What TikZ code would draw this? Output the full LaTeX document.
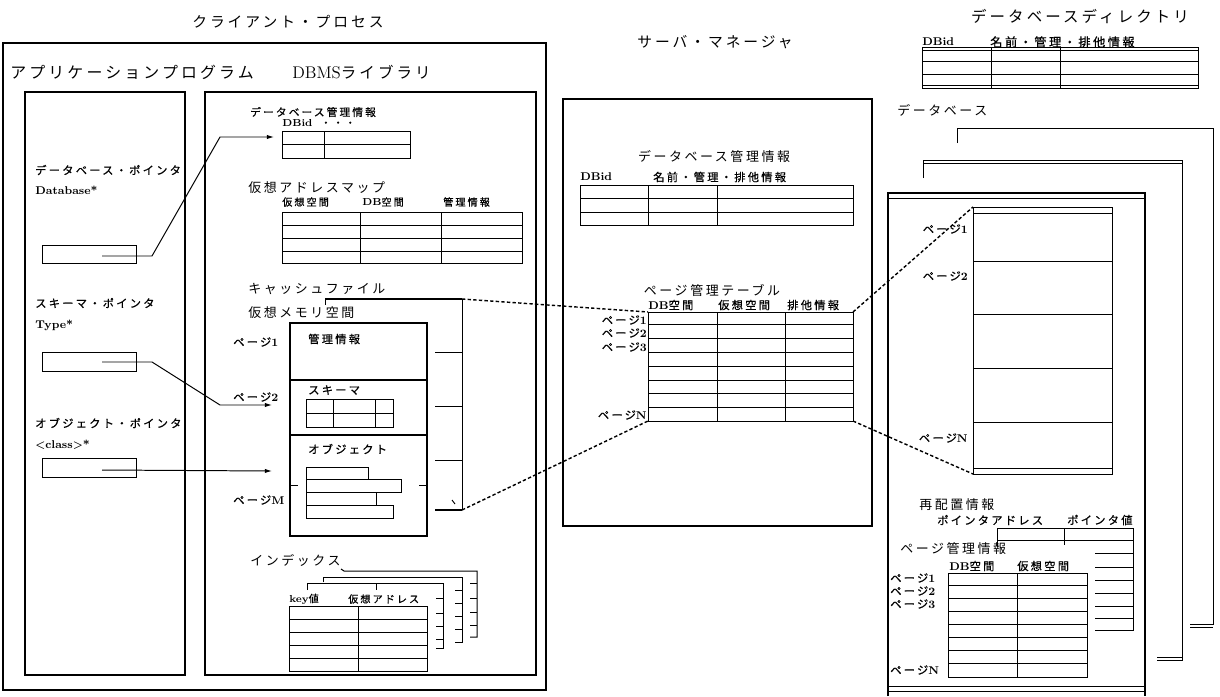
\documentclass[tikz,border=0pt]{standalone}
\usepackage{fontspec}
\newfontfamily\jp[LetterSpace=20]{Noto Sans CJK JP}
\newfontfamily\jpb[LetterSpace=20, FakeBold=0.7]{Noto Sans CJK JP}
\usetikzlibrary{arrows.meta}
\newcommand\rmt[1]{{\rmfamily #1}}
\tikzset{
  box/.style={draw, line width=1pt},
  tab/.style={draw, line width=0.7pt},
  ptr/.style={line width=0.7pt, -{Latex[length=5pt,width=3pt]}},
  link/.style={line width=1pt, dash pattern=on 2.4pt off 1.6pt},
  title/.style={font=\fontsize{10.5}{12}\jp, inner sep=0pt},
  big/.style={font=\fontsize{9.2}{11}\jp, inner sep=0pt, anchor=west},
  mid/.style={font=\fontsize{8}{9}\jpb, inner sep=0pt, anchor=west},
  small/.style={font=\fontsize{7.2}{8}\jpb, inner sep=0pt, anchor=west},
}

\begin{document}
\begin{tikzpicture}[x=0.025cm, y=-0.025cm]
  \useasboundingbox (0,0) rectangle (1220,696);

  % titles
  \node[title] (tclient) at (288,22) {クライアント・プロセス};
  \node[title] (tserver) at (715,42) {サーバ・マネージャ};
  \node[title, font=\fontsize{11}{13}\jp] (tdir) at (1080,17) {データベースディレクトリ};
  \node[big] (tdb) at (897,110) {データベース};

  % client process
  \draw[box, line width=1.3pt] (3,43) rectangle (546,690);
  \node[title, anchor=west, font=\fontsize{11.3}{13}\jp] (tapp) at (10,72) {アプリケーションプログラム};
  \node[title, anchor=west, font=\fontsize{11}{13}\jp] (tlib) at (292,72) {\rmt{\fontsize{12}{13}\selectfont DBMS}ライブラリ};
  \draw[box] (25,92) rectangle (185,675);
  \draw[box] (205,92) rectangle (536,675);

  % application program
  \node[mid] (ldbp) at (35,170) {データベース・ポインタ};
  \node[mid] (ldbt) at (35,190) {\rmt{\bfseries Database*}};
  \draw[tab] (42,245) rectangle (136,263);
  \node[mid] (lscp) at (35,303) {スキーマ・ポインタ};
  \node[mid] (lsct) at (35,325) {\rmt{\bfseries Type*}};
  \draw[tab] (42,352) rectangle (136,371);
  \node[mid] (lobp) at (35,423) {オブジェクト・ポインタ};
  \node[mid] (lobt) at (35,445) {\rmt{\bfseries <class>*}};
  \draw[tab] (42,458) rectangle (136,477);
  \coordinate (pdb) at (102,256);
  \coordinate (psc) at (102,362);
  \coordinate (pob) at (102,470);

  % DBMS library
  \node[small, font=\fontsize{7.6}{8}\jpb] (ldbinfo) at (250,112) {データベース管理情報};
  \node[small] (ldbid) at (282,123) {\rmt{\bfseries DBid}\hspace{6pt}・・・};
  \draw[tab] (282,131) rectangle (410,158);
  \draw[tab] (324,131) -- (324,158) (282,144) -- (410,144);
  \coordinate (dbtab) at (274,137);

  \node[big] (lvam) at (248,188) {仮想アドレスマップ};
  \node[small] (hva1) at (282,202) {仮想空間};
  \node[small] (hva2) at (362,202) {\rmt{\bfseries DB}空間};
  \node[small] (hva3) at (443,202) {管理情報};
  \draw[tab] (282,212) rectangle (522,263);
  \draw[tab] (360,212) -- (360,263) (441,212) -- (441,263);
  \foreach \y in {225,238,251}
    \draw[tab] (282,\y) -- (522,\y);

  \node[big] (lcache) at (248,289) {キャッシュファイル};
  \draw[line width=1.8pt] (325,299) -- (462,299);
  \draw[tab] (325,299) -- (325,305) (462,299) -- (462,510);
  \foreach \y in {352,406,460}
    \draw[tab] (435,\y) -- (462,\y);
  \draw[line width=1.8pt] (435,510) -- (462,510);
  \draw[tab] (452,500) -- (455,504);
  \coordinate (cacheT) at (462,299);
  \coordinate (cacheB) at (462,510);

  \node[big] (lvm) at (248,313) {仮想メモリ空間};
  \draw[box] (290,323) rectangle (427,536);
  \draw[box] (290,380) -- (427,380) (290,435) -- (427,435);
  \draw[tab] (290,485) -- (298,485) (419,485) -- (427,485);
  \node[mid] (lvmi) at (308,339) {管理情報};
  \node[mid] (lvms) at (308,390) {スキーマ};
  \draw[tab] (306,399) rectangle (393,427);
  \draw[tab] (333,399) -- (333,427) (375,399) -- (375,427) (306,413) -- (393,413);
  \node[mid] (lvmo) at (308,449) {オブジェクト};
  \draw[tab] (306,467) rectangle (368,479);
  \draw[tab] (306,479) rectangle (401,492);
  \draw[tab] (306,492) rectangle (376,505);
  \draw[tab] (306,505) rectangle (393,518);
  \node[mid] (vp1) at (233,342) {ページ\rmt{\bfseries 1}};
  \node[mid] (vp2) at (233,397) {ページ\rmt{\bfseries 2}};
  \node[mid] (vpm) at (233,500) {ページ\rmt{\bfseries M}};
  \coordinate (pg2) at (272,405);
  \coordinate (pgm) at (272,471);

  \node[big] (lidx) at (250,560) {インデックス};
  \draw[tab] (341,569) -- (344,571) -- (477,571) -- (477,637) -- (470,637);
  \foreach \y in {583,598,612,625}
    \draw[tab] (470,\y) -- (477,\y);
  \draw[tab] (323,582) -- (323,577) -- (462,577) -- (462,642) -- (455,642);
  \foreach \y in {590,603,616,629}
    \draw[tab] (455,\y) -- (462,\y);
  \draw[tab] (307,590) -- (307,583) -- (443,583) -- (443,648) -- (436,648);
  \draw[tab] (376,583) -- (376,590);
  \foreach \y in {598,613,626,639}
    \draw[tab] (436,\y) -- (443,\y);
  \node[small] (hix1) at (289,599) {\rmt{\bfseries key}値};
  \node[small] (hix2) at (348,599) {仮想アドレス};
  \draw[tab] (289,606) rectangle (427,671);
  \draw[tab] (358,606) -- (358,671);
  \foreach \y in {619,632,645,658}
    \draw[tab] (289,\y) -- (427,\y);

  % pointers
  \draw[ptr] (pdb) -- (152,256) -- (220,137) -- (dbtab);
  \draw[ptr] (psc) -- (152,362) -- (220,405) -- (pg2);
  \draw[ptr] (pob) -- (pgm);

  % server manager
  \draw[box, line width=1.3pt] (563,99) rectangle (872,526);
  \node[big, anchor=center] (ldbsrv) at (714,157) {データベース管理情報};
  \node[mid] (hsv1) at (580,177) {\rmt{\bfseries DBid}};
  \node[mid] (hsv2) at (653,177) {名前・管理・排他情報};
  \draw[tab] (580,185) rectangle (853,225);
  \draw[tab] (648,185) -- (648,225) (717,185) -- (717,225);
  \draw[tab] (580,198) -- (853,198) (580,212) -- (853,212);

  \node[big, anchor=center] (lpgt) at (712,290) {ページ管理テーブル};
  \node[mid] (hpt1) at (648,305) {\rmt{\bfseries DB}空間};
  \node[mid] (hpt2) at (718,305) {仮想空間};
  \node[mid] (hpt3) at (787,305) {排他情報};
  \draw[tab] (648,312) rectangle (853,421);
  \draw[tab] (717,312) -- (717,421) (785,312) -- (785,421);
  \foreach \y in {324,338,352,366,380,393,407}
    \draw[tab] (648,\y) -- (853,\y);
  \node[mid, anchor=east] (sp1) at (647,320) {ページ\rmt{\bfseries 1}};
  \node[mid, anchor=east] (sp2) at (647,333) {ページ\rmt{\bfseries 2}};
  \node[mid, anchor=east] (sp3) at (647,347) {ページ\rmt{\bfseries 3}};
  \node[mid, anchor=east] (spn) at (647,415) {ページ\rmt{\bfseries N}};
  \coordinate (ptNW) at (648,312);
  \coordinate (ptSW) at (648,421);
  \coordinate (ptNE) at (853,312);
  \coordinate (ptSE) at (853,421);

  % database directory
  \node[mid] (hdr1) at (922,42) {\rmt{\bfseries DBid}};
  \node[mid, font=\fontsize{8.7}{10}\jpb] (hdr2) at (990,42) {名前・管理・排他情報};
  \draw[tab] (922,47) rectangle (1198,88);
  \draw[tab] (991,47) -- (991,88) (1060,47) -- (1060,88);
  \foreach \y in {50,61,74,85}
    \draw[line width=0.5pt] (922,\y) -- (1198,\y);

  % database
  \draw[tab] (957,143) -- (957,128) -- (1213,128) -- (1213,624) -- (1190,624);
  \draw[tab] (1190,627) -- (1213,627);
  \draw[tab] (923,178) -- (923,160) -- (1182,160) -- (1182,660) -- (1157,660);
  \draw[tab] (923,163) -- (1182,163) (1157,657) -- (1182,657);
  \draw[box] (888,696) -- (888,193) -- (1145,193) -- (1145,696);
  \draw[tab] (888,198) -- (1145,198);
  \draw[tab] (888,686) -- (1145,686) (888,691) -- (1145,691);

  \draw[tab] (973,207) rectangle (1112,474);
  \draw[tab] (973,213) -- (1112,213) (973,468) -- (1112,468);
  \foreach \y in {261,314,368,422}
    \draw[tab] (973,\y) -- (1112,\y);
  \node[mid, anchor=east] (dp1) at (968,229) {ページ\rmt{\bfseries 1}};
  \node[mid, anchor=east] (dp2) at (968,276) {ページ\rmt{\bfseries 2}};
  \node[mid, anchor=east] (dpn) at (968,438) {ページ\rmt{\bfseries N}};
  \coordinate (dbNW) at (973,207);
  \coordinate (dbSW) at (973,474);

  \node[big] (lreloc) at (919,505) {再配置情報};
  \node[mid] (hrl1) at (937,520) {ポインタアドレス};
  \node[mid] (hrl2) at (1067,520) {ポインタ値};
  \draw[tab] (997,547) -- (997,528) -- (1133,528) -- (1133,630) -- (1095,630);
  \draw[tab] (997,540) -- (1133,540) (1064,528) -- (1064,545);
  \foreach \y in {553,567,580,593,606,618}
    \draw[tab] (1095,\y) -- (1133,\y);

  \node[big] (lpginfo) at (900,549) {ページ管理情報};
  \node[mid] (hpi1) at (949,566) {\rmt{\bfseries DB}空間};
  \node[mid] (hpi2) at (1017,566) {仮想空間};
  \draw[tab] (948,573) rectangle (1087,677);
  \draw[tab] (1017,573) -- (1017,677);
  \foreach \y in {585,598,611,624,637,650,663}
    \draw[tab] (948,\y) -- (1087,\y);
  \node[mid] (rp1) at (890,578) {ページ\rmt{\bfseries 1}};
  \node[mid] (rp2) at (890,591) {ページ\rmt{\bfseries 2}};
  \node[mid] (rp3) at (890,604) {ページ\rmt{\bfseries 3}};
  \node[mid] (rpn) at (890,670) {ページ\rmt{\bfseries N}};

  % page links
  \draw[link] (cacheT) -- (ptNW);
  \draw[link] (cacheB) -- (ptSW);
  \draw[link] (ptNE) -- (dbNW);
  \draw[link] (ptSE) -- (dbSW);
\end{tikzpicture}
\end{document}
